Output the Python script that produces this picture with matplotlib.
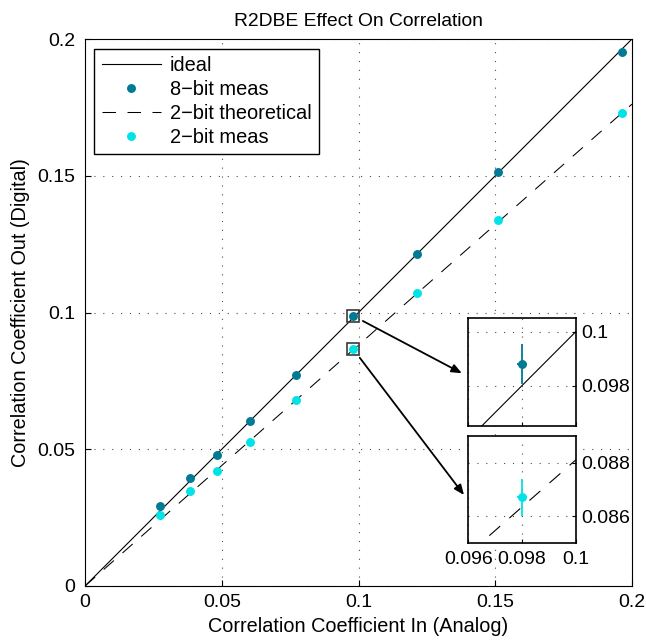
import matplotlib
matplotlib.use("Agg")
import matplotlib.pyplot as plt
from matplotlib.patches import ConnectionPatch
from matplotlib.ticker import FuncFormatter

plt.rcParams['font.family'] = ['Liberation Sans', 'DejaVu Sans']
FS_TITLE = 13.9
FS_LABEL = 14.3
FS_TICK = 14
FS_LEG = 14.4

# Measured correlation, analog input vs digital output
x_in = [0.0274, 0.0384, 0.0481, 0.0603, 0.0771, 0.0980, 0.1214, 0.1510, 0.1962]
y_8bit = [0.0294, 0.0394, 0.0480, 0.0602, 0.0771, 0.0988, 0.1214, 0.1514, 0.1951]
y_2bit = [0.0260, 0.0347, 0.0422, 0.0527, 0.0679, 0.0867, 0.1071, 0.1338, 0.1729]

# Reference lines
ideal_x = [0.0, 0.2]
ideal_y = [0.0, 0.2]
theory_x = [0.0, 0.2]
theory_y = [0.0, 0.1762]

# Uncertainty on the highlighted point (index 5)
zoom_idx = 5
x_err = 0.0002
y_err_8bit = 0.00075
y_err_2bit = 0.0007

main_ticks = [0, 0.05, 0.1, 0.15, 0.2]
inset_xticks = [0.096, 0.098, 0.1]
inset1_yticks = [0.098, 0.1]
inset2_yticks = [0.086, 0.088]

C8 = '#007b93'
C2 = '#00e3e6'
GRID = dict(color='#4d4d4d', linestyle=(0, (1, 7)), linewidth=0.8)
DASH = (0, (13, 11))

fmt = FuncFormatter(lambda v, p: '%g' % v)

fig = plt.figure(figsize=(6.46, 6.40), dpi=100)
ax = fig.add_axes([85 / 646, (640 - 586) / 640, 547 / 646, 547 / 640])

ax.plot(ideal_x, ideal_y, color='k', lw=0.8, label='ideal')
ax.plot(x_in, y_8bit, 'o', color=C8, ms=5.4, label='8\u2212bit meas')
ax.plot(theory_x, theory_y, color='k', lw=0.75, linestyle=DASH,
        label='2\u2212bit theoretical')
ax.plot(x_in, y_2bit, 'o', color=C2, ms=5.4, label='2\u2212bit meas')

# boxes around the point shown in the insets
for yv in (y_8bit[zoom_idx], y_2bit[zoom_idx]):
    ax.plot(x_in[zoom_idx], yv, 's', ms=8.5, mfc='none', mec='#3a3a3a', mew=1.2)

ax.set_xlim(0, 0.2)
ax.set_ylim(0, 0.2)
ax.set_xticks(main_ticks)
ax.set_yticks(main_ticks)
ax.xaxis.set_major_formatter(fmt)
ax.yaxis.set_major_formatter(fmt)
ax.tick_params(direction='in', length=4, labelsize=FS_TICK)
ax.tick_params(axis='x', pad=6)
ax.tick_params(axis='y', pad=7)
ax.grid(True, **GRID)
for s in ax.spines.values():
    s.set_linewidth(0.8)

ax.set_title('R2DBE Effect On Correlation', fontsize=FS_TITLE, pad=9)
ax.set_xlabel('Correlation Coefficient In (Analog)', fontsize=FS_LABEL, labelpad=4)
ax.set_ylabel('Correlation Coefficient Out (Digital)', fontsize=FS_LABEL, labelpad=5)

leg = ax.legend(loc='upper left', bbox_to_anchor=(0.0165, 0.982), borderaxespad=0,
                fontsize=FS_LEG, numpoints=1, handlelength=2.95, handletextpad=0.45,
                labelspacing=0.24, borderpad=0.38, fancybox=False, framealpha=1)
leg.get_frame().set_edgecolor('k')
leg.get_frame().set_linewidth(1.0)


def make_inset(rect, ylim, yticks, yvals, yerr, color, ref_x, ref_y, ls, show_x):
    ins = fig.add_axes(rect)
    ins.plot(ref_x, ref_y, color='k', lw=0.8, linestyle=ls)
    ins.errorbar([x_in[zoom_idx]], [yvals[zoom_idx]], xerr=x_err, yerr=yerr,
                 fmt='o', color=color, ms=5.4, elinewidth=1.3, capsize=0)
    ins.set_xlim(0.096, 0.1)
    ins.set_ylim(*ylim)
    ins.set_xticks(inset_xticks)
    ins.set_yticks(yticks)
    ins.xaxis.set_major_formatter(fmt)
    ins.yaxis.set_major_formatter(fmt)
    ins.yaxis.tick_right()
    ins.tick_params(direction='in', length=3, labelsize=FS_TICK)
    ins.tick_params(axis='y', pad=4, right=True, left=False)
    ins.tick_params(axis='x', pad=6, labelbottom=show_x)
    ins.grid(True, **GRID)
    for s in ins.spines.values():
        s.set_linewidth(1.2)
    return ins


ins1 = make_inset([468.3 / 646, (640 - 426) / 640, 107.4 / 646, 107.7 / 640],
                  (0.0965, 0.1005), inset1_yticks, y_8bit, y_err_8bit, C8,
                  ideal_x, ideal_y, '-', False)
ins2 = make_inset([468.3 / 646, (640 - 542.7) / 640, 107.4 / 646, 106.7 / 640],
                  (0.085, 0.089), inset2_yticks, y_2bit, y_err_2bit, C2,
                  theory_x, theory_y, DASH, True)

# arrows from the boxed points to their insets
for yv, ins, tip in ((y_8bit[zoom_idx], ins1, (-0.06, 0.49)),
                     (y_2bit[zoom_idx], ins2, (-0.04, 0.447))):
    con = ConnectionPatch(xyA=(x_in[zoom_idx], yv), coordsA='data', axesA=ax,
                          xyB=tip, coordsB='axes fraction', axesB=ins,
                          arrowstyle='-|>,head_length=0.6,head_width=0.25',
                          shrinkA=8, shrinkB=0, mutation_scale=10,
                          lw=1.3, color='k')
    fig.add_artist(con)

fig.savefig('out.png', dpi=100)
